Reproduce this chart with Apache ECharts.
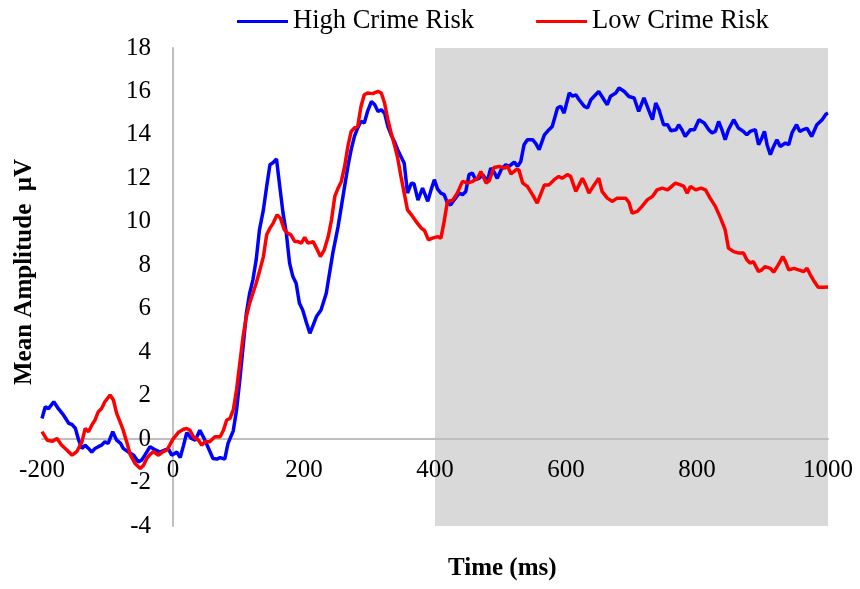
<!DOCTYPE html>
<html>
<head>
<meta charset="utf-8">
<script src="https://cdn.jsdelivr.net/npm/echarts@6/dist/echarts.min.js"></script>
<style>html,body{margin:0;padding:0;background:#fff;}#c{width:860px;height:589px;}</style>
</head>
<body>
<div id="c"></div>
<script>
const seriesNames = ['High Crime Risk', 'Low Crime Risk'];
const xTicks = [-200, 0, 200, 400, 600, 800, 1000];
const yTicks = [-4, -2, 0, 2, 4, 6, 8, 10, 12, 14, 16, 18];
const windowRange = [400, 1000];

const highTime = [-200,-195,-190,-182,-175,-167,-159,-154,-149,-144,-139,-134,-129,-124,-119,-114,-109,-104,-99,-92,-86,-80,-76,-68,-60,-53,-48,-43,-35,-27,-20,-12,-7,-2,6,11,16,21,28,34,41,48,56,61,67,72,79,84,92,97,102,107,112,117,122,127,132,138,143,148,153,158,163,168,173,178,183,188,193,198,204,209,214,219,226,234,239,244,252,257,262,267,272,277,282,287,292,297,303,308,313,318,323,328,333,338,343,348,353,358,364,368,374,381,389,394,399,404,409,414,419,424,429,437,442,447,452,457,462,467,473,480,485,490,495,501,508,513,521,526,531,536,541,549,554,559,567,574,579,587,592,597,605,610,615,620,628,633,638,643,650,658,663,668,676,681,689,696,704,711,719,727,732,737,742,749,755,760,768,772,777,782,790,796,803,811,818,823,828,833,838,843,848,856,863,871,876,881,889,894,899,903,907,912,917,922,927,935,940,945,952,957,962,968,975,983,991,997,1000];
const highAmp = [0.95,1.49,1.40,1.72,1.40,1.10,0.72,0.67,0.49,-0.05,-0.43,-0.28,-0.43,-0.60,-0.43,-0.35,-0.28,-0.12,-0.20,0.34,-0.05,-0.20,-0.43,-0.60,-0.74,-1.05,-0.97,-0.74,-0.35,-0.50,-0.60,-0.50,-0.45,-0.74,-0.60,-0.85,-0.30,0.30,0.03,-0.05,0.41,0.00,-0.55,-0.89,-0.92,-0.85,-0.92,-0.20,0.38,1.34,2.72,4.25,5.79,6.71,7.33,8.25,9.63,10.55,11.63,12.63,12.73,12.89,11.63,10.40,9.48,8.10,7.48,7.17,6.25,5.94,5.33,4.87,5.25,5.64,5.94,6.71,7.64,8.56,9.78,10.70,11.63,12.55,13.32,13.93,14.32,14.62,14.55,15.08,15.54,15.39,15.08,15.16,15.00,14.39,14.00,13.70,13.32,13.01,12.70,11.32,11.78,11.75,11.00,11.55,10.94,11.47,11.94,11.50,11.32,11.25,10.86,10.78,11.00,11.32,11.25,11.40,12.17,12.25,11.94,12.00,12.17,11.86,12.47,12.30,12.00,12.40,12.63,12.55,12.75,12.55,12.78,13.55,13.78,13.78,13.60,13.32,14.00,14.24,14.39,15.24,15.32,15.00,15.93,15.78,15.85,15.62,15.31,15.24,15.62,15.78,16.00,15.62,15.39,15.78,15.93,16.16,16.00,15.77,15.70,15.08,15.70,15.08,14.70,15.47,15.16,14.47,14.47,14.19,14.24,14.47,14.24,13.93,14.24,14.24,14.70,14.55,14.24,14.09,14.16,14.62,14.24,13.78,14.24,14.70,14.32,14.16,14.00,14.16,14.24,13.55,13.86,14.16,13.55,13.09,13.47,13.78,13.47,13.63,13.55,14.09,14.47,14.16,14.24,14.30,13.93,14.47,14.70,14.96,15.00];

const lowTime = [-200,-192,-184,-177,-170,-162,-154,-147,-139,-134,-129,-124,-119,-114,-109,-104,-96,-91,-86,-81,-76,-70,-65,-58,-50,-45,-40,-35,-30,-22,-15,-9,-5,0,8,16,21,26,31,39,44,49,56,64,72,77,82,87,92,97,102,107,112,117,122,127,132,138,143,148,153,159,164,170,175,180,186,191,196,201,206,214,219,225,231,237,242,247,252,257,262,267,272,277,282,287,292,297,305,313,318,323,328,333,338,343,348,353,358,364,371,379,384,390,396,404,409,414,419,427,434,442,450,457,465,470,478,483,490,498,506,511,516,524,528,534,541,549,556,562,567,574,582,589,594,602,607,615,620,625,630,635,643,650,655,663,671,678,686,691,696,701,709,716,724,732,739,747,755,760,767,775,780,785,790,798,806,813,820,828,836,843,848,856,864,871,876,881,886,894,899,904,912,917,924,931,935,940,948,955,963,968,973,978,985,993,1000];
const lowAmp = [0.34,-0.05,-0.10,0.03,-0.28,-0.50,-0.74,-0.58,-0.12,0.49,0.34,0.64,0.88,1.26,1.41,1.72,2.03,1.80,1.18,0.80,0.41,-0.20,-0.74,-1.12,-1.35,-1.20,-0.89,-0.70,-0.58,-0.74,-0.58,-0.50,-0.28,0.00,0.30,0.45,0.49,0.41,0.11,-0.05,-0.28,-0.12,-0.12,0.11,0.11,0.41,0.88,0.95,1.34,2.26,3.49,4.72,5.64,6.25,6.71,7.17,7.71,8.40,9.40,9.71,9.94,10.32,10.17,9.63,9.48,9.40,9.09,9.09,9.02,9.28,9.02,9.09,8.79,8.40,8.71,9.32,10.09,11.17,11.55,11.86,12.55,13.47,14.16,14.32,14.39,15.31,15.85,15.93,15.90,16.00,15.93,15.47,14.70,14.09,13.55,12.94,12.09,11.32,10.55,10.32,10.02,9.71,9.60,9.17,9.25,9.32,9.25,10.02,10.94,11.00,11.32,11.86,11.78,11.86,12.01,12.32,11.78,11.90,12.50,12.55,12.47,12.55,12.20,12.40,12.40,11.78,11.63,11.24,10.86,11.32,11.70,11.70,11.94,12.09,12.00,12.17,12.09,11.40,11.70,12.01,11.70,11.32,11.70,12.01,11.40,11.09,10.94,11.09,11.09,11.09,10.90,10.40,10.48,10.71,11.01,11.17,11.47,11.55,11.47,11.60,11.78,11.70,11.63,11.32,11.63,11.47,11.55,11.47,11.09,10.71,10.17,9.63,8.79,8.63,8.56,8.56,8.25,8.10,8.17,7.71,7.79,7.94,7.86,7.68,8.02,8.40,8.17,7.79,7.86,7.79,7.71,7.86,7.56,7.30,6.99,6.99,7.00];

const pair = (ts, vs) => ts.map((t, i) => [t, vs[i]]);
const FONT = '"Liberation Serif", "Times New Roman", serif';

// plot box layout
const G = {left: 42, right: 32, top: 48, bottom: 63, W: 860, H: 589};
const plotW = G.W - G.left - G.right;
const plotH = G.H - G.top - G.bottom;
const xMin = xTicks[0], xMax = xTicks[xTicks.length - 1];
const yMin = yTicks[0], yMax = yTicks[yTicks.length - 1];
// shift axes so they cross at zero (line + labels together)
const yAxisOffset = -plotW * (0 - xMin) / (xMax - xMin);
const xAxisOffset = -plotH * (0 - yMin) / (yMax - yMin);

const chart = echarts.init(document.getElementById('c'), null, {renderer: 'canvas'});
chart.setOption({
  animation: false,
  backgroundColor: '#ffffff',
  grid: {left: G.left, right: G.right, top: G.top, bottom: G.bottom, containLabel: false, outerBoundsMode: 'none'},
  legend: {
    data: seriesNames,
    left: 232, top: 3,
    icon: 'rect', itemWidth: 51, itemHeight: 3, itemGap: 62,
    textStyle: {fontFamily: FONT, fontSize: 26.5, color: '#000'}
  },
  title: {
    text: 'Time (ms)', left: 443, top: 551,
    textStyle: {fontFamily: FONT, fontSize: 25, fontWeight: 'bold', color: '#000'}
  },
  graphic: [{
    type: 'text', x: 25, y: 272, rotation: Math.PI / 2,
    style: {text: 'Mean Amplitude  \u03bcV', font: 'bold 25px ' + FONT, fill: '#000',
            textAlign: 'center', textVerticalAlign: 'middle'}
  }],
  xAxis: {
    type: 'value', min: xMin, max: xMax, interval: 200, z: 3,
    position: 'bottom', offset: xAxisOffset,
    axisLine: {onZero: false, lineStyle: {color: '#bfbfbf', width: 2}},
    axisTick: {show: false}, splitLine: {show: false},
    axisLabel: {margin: 19, fontFamily: FONT, fontSize: 25, color: '#000', formatter: v => String(v)}
  },
  yAxis: {
    type: 'value', min: yMin, max: yMax, interval: 2, z: 3,
    position: 'left', offset: yAxisOffset,
    axisLine: {show: true, onZero: false, lineStyle: {color: '#bfbfbf', width: 2}},
    axisTick: {show: false}, splitLine: {show: false},
    axisLabel: {margin: 22, fontFamily: FONT, fontSize: 25, color: '#000', formatter: v => String(v)}
  },
  series: [
    {
      type: 'line', z: 1, data: [], silent: true,
      markArea: {silent: true, itemStyle: {color: '#d9d9d9'},
        data: [[{xAxis: windowRange[0], yAxis: yMin}, {xAxis: windowRange[1], yAxis: yMax}]]}
    },
    {
      name: seriesNames[0], type: 'line', z: 4, data: pair(highTime, highAmp),
      showSymbol: false, symbol: 'none', lineStyle: {color: '#0000ff', width: 3.5}, itemStyle: {color: '#0000ff'}
    },
    {
      name: seriesNames[1], type: 'line', z: 5, data: pair(lowTime, lowAmp),
      showSymbol: false, symbol: 'none', lineStyle: {color: '#ff0000', width: 3.5}, itemStyle: {color: '#ff0000'}
    }
  ]
});
</script>
</body>
</html>
